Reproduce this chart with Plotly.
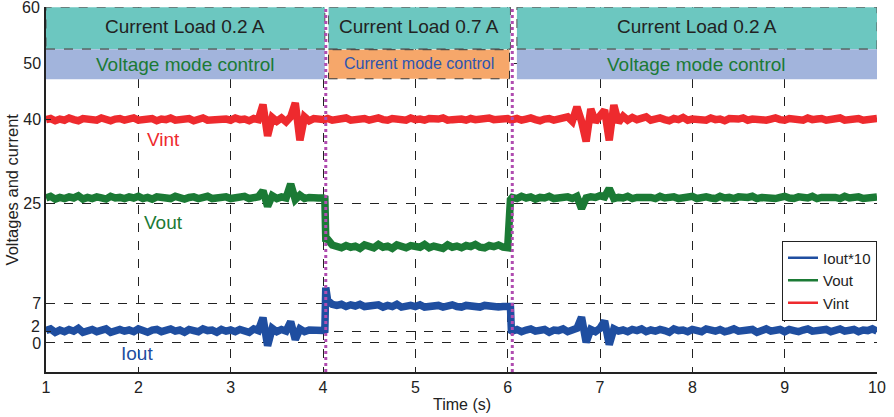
import plotly.graph_objects as go

# ---------------- data ----------------
# sample times: 0.05 s grid, with the two switching instants inserted
t_seg1 = [round(1.00 + 0.05 * i, 2) for i in range(61)]      # 1.00 .. 4.00
t_step1 = [4.02, 4.03]
t_seg2 = [round(4.05 + 0.05 * i, 2) for i in range(40)]      # 4.05 .. 6.00
t_step2 = [6.03, 6.04]
t_seg3 = [round(6.05 + 0.05 * i, 2) for i in range(80)]      # 6.05 .. 10.00
time_s = t_seg1 + t_step1 + t_seg2 + t_step2 + t_seg3

vint_seg1 = [39.9, 40.1, 39.7, 40.0, 39.8, 40.2, 39.9, 39.7, 40.1, 39.9,
             40.0, 39.8, 40.2, 39.9, 39.7, 40.0, 40.1, 39.8, 39.9, 40.2,
             39.8, 40.0, 39.9, 40.1, 39.7, 40.0, 39.9, 40.2, 39.8, 40.0,
             39.9, 40.1, 39.7, 40.0, 40.2, 39.8, 39.9, 40.1, 39.9, 40.0,
             39.8, 40.2, 39.9, 40.0, 39.7, 40.1, 39.9, 42.6, 37.0, 40.3,
             39.6, 40.2, 39.5, 40.4, 42.9, 36.2, 40.4, 39.7, 40.1, 39.9,
             40.0]
vint_step1 = [39.9, 40.0]
vint_seg2 = [40.1, 39.8, 40.0, 39.9, 40.2, 39.8, 40.0, 39.9, 40.1, 39.8,
             40.0, 40.2, 39.9, 39.8, 40.1, 39.9, 40.0, 39.8, 40.2, 39.9,
             40.0, 39.8, 40.1, 39.9, 40.0, 40.2, 39.8, 39.9, 40.1, 40.0,
             39.8, 40.1, 39.9, 40.0, 39.8, 40.2, 39.9, 40.0, 39.8, 40.1]
vint_step2 = [39.9, 40.0]
vint_seg3 = [39.9, 40.1, 39.8, 40.0, 40.2, 39.9, 39.7, 40.0, 40.1, 39.8,
             40.0, 39.9, 40.4, 39.6, 42.2, 39.6, 36.0, 41.8, 39.5, 40.6,
             41.6, 36.2, 42.5, 39.4, 40.5, 39.8, 40.3, 39.9, 40.0, 40.4,
             39.8, 40.0, 40.2, 39.9, 39.7, 40.1, 39.9, 40.3, 39.8, 40.0,
             39.9, 40.1, 39.8, 40.2, 39.9, 40.0, 39.7, 40.1, 39.9, 40.0,
             40.2, 39.8, 40.0, 39.9, 40.1, 39.8, 40.0, 40.2, 39.9, 39.8,
             40.1, 39.9, 40.0, 39.8, 40.2, 39.9, 40.0, 40.1, 39.8, 40.0,
             39.9, 40.2, 39.8, 40.0, 39.9, 40.1, 39.8, 40.0, 39.9, 40.1]
vint = vint_seg1 + vint_step1 + vint_seg2 + vint_step2 + vint_seg3

vout_seg1 = [25.9, 26.2, 25.7, 26.0, 25.8, 26.1, 25.9, 26.3, 25.7, 26.0,
             25.8, 26.1, 25.9, 25.7, 26.2, 25.9, 26.0, 25.8, 26.1, 25.9,
             26.2, 25.8, 26.0, 25.7, 26.1, 25.9, 26.0, 25.8, 26.2, 25.9,
             25.7, 26.0, 26.1, 25.8, 25.9, 26.2, 25.8, 26.0, 25.9, 26.1,
             25.8, 26.0, 25.9, 26.2, 25.8, 26.0, 26.1, 27.2, 24.4, 26.3,
             25.8, 26.1, 25.9, 28.4, 25.6, 26.4, 25.8, 26.0, 26.1, 25.9,
             25.9]
vout_step1 = [25.8, 18.6]
vout_seg2 = [18.5, 17.5, 17.2, 17.0, 17.4, 17.1, 17.3, 16.9, 17.5, 17.2,
             17.0, 17.6, 17.1, 17.3, 16.9, 17.5, 17.2, 17.0, 17.4, 17.2,
             17.1, 17.6, 17.0, 17.3, 17.2, 16.9, 17.5, 17.1, 17.3, 17.0,
             17.4, 17.2, 17.6, 17.1, 17.0, 17.4, 17.2, 17.5, 17.1, 17.0]
vout_step2 = [25.6, 26.0]
vout_seg3 = [26.0, 25.8, 26.2, 25.9, 26.1, 25.7, 26.0, 25.9, 26.2, 25.8,
             26.0, 25.9, 26.1, 25.8, 26.2, 24.0, 25.9, 26.1, 26.0, 26.3,
             26.1, 27.6, 25.8, 26.0, 25.9, 26.2, 25.8, 26.0, 26.1, 25.9,
             26.0, 25.8, 26.2, 25.9, 26.0, 26.1, 25.8, 26.0, 25.9, 26.2,
             25.8, 26.0, 26.1, 25.9, 25.8, 26.2, 25.9, 26.0, 25.8, 26.1,
             25.9, 26.0, 26.2, 25.8, 26.0, 25.9, 26.1, 25.8, 26.0, 26.2,
             25.9, 25.8, 26.1, 26.0, 25.9, 26.2, 25.8, 26.0, 26.1, 25.9,
             26.0, 25.8, 26.2, 25.9, 26.0, 26.1, 25.8, 26.0, 25.9, 26.1]
vout = vout_seg1 + vout_step1 + vout_seg2 + vout_step2 + vout_seg3

iout_seg1 = [2.2, 2.5, 1.9, 2.3, 2.0, 2.4, 2.1, 2.6, 1.9, 2.2,
             2.4, 2.0, 2.3, 2.5, 1.9, 2.2, 2.4, 2.1, 2.3, 2.0,
             2.5, 2.2, 1.9, 2.3, 2.4, 2.0, 2.2, 2.5, 2.1, 2.3,
             1.9, 2.4, 2.2, 2.0, 2.5, 2.2, 2.3, 1.9, 2.4, 2.1,
             2.3, 2.0, 2.4, 2.2, 1.9, 2.5, 2.2, 4.5, -0.5, 2.6,
             2.0, 2.4, 2.1, 3.8, 0.6, 2.5, 2.0, 2.3, 2.2, 2.4,
             2.2]
iout_step1 = [2.3, 9.9]
iout_seg2 = [7.6, 6.9, 6.7, 6.9, 6.5, 6.8, 6.6, 6.9, 6.5, 6.7,
             6.6, 6.8, 6.4, 6.7, 6.5, 6.9, 6.4, 6.6, 6.7, 6.5,
             6.8, 6.4, 6.6, 6.5, 6.7, 6.4, 6.6, 6.8, 6.5, 6.4,
             6.7, 6.5, 6.6, 6.4, 6.7, 6.5, 6.6, 6.4, 6.5, 6.6]
iout_step2 = [6.5, 2.2]
iout_seg3 = [2.1, 2.4, 2.0, 2.3, 2.5, 2.1, 2.2, 2.4, 1.9, 2.3,
             2.2, 2.5, 2.0, 2.3, 2.6, 4.6, 0.1, 2.4, 2.0, 2.6,
             3.9, -0.3, 2.5, 2.1, 2.3, 2.0, 2.4, 2.2, 2.5, 2.0,
             2.3, 2.1, 2.4, 2.2, 1.9, 2.5, 2.2, 2.3, 2.0, 2.4,
             2.2, 2.0, 2.5, 2.3, 2.1, 2.4, 2.0, 2.2, 2.5, 2.1,
             2.3, 2.2, 2.4, 1.9, 2.3, 2.5, 2.1, 2.2, 2.4, 2.0,
             2.4, 2.2, 2.0, 2.3, 2.5, 2.1, 2.3, 2.2, 2.4, 2.0,
             2.3, 2.5, 2.1, 2.2, 2.4, 2.0, 2.3, 2.2, 2.5, 2.1]
iout = iout_seg1 + iout_step1 + iout_seg2 + iout_step2 + iout_seg3

series_names = ["Iout*10", "Vout", "Vint"]
series_colors = ["#1f4ea0", "#1b7a35", "#ee2a2e"]

y_ticks = [0, 2, 7, 25, 40, 50, 60]
# "2" is drawn slightly raised and "60" sits at the top edge: both placed as annotations
y_ticklabels = ["0", "", "7", "25", "40", "50", ""]
x_ticks = [1, 2, 3, 4, 5, 6, 7, 8, 9, 10]

# load/mode bands: (x0, x1, label)
load_bands = [(1.0, 4.02, "Current Load 0.2 A"),
              (4.06, 6.03, "Current Load 0.7 A"),
              (6.10, 10.0, "Current Load 0.2 A")]
mode_bands = [(1.0, 4.02, "Voltage mode control"),
              (4.06, 6.02, "Current mode control"),
              (6.10, 10.0, "Voltage mode control")]
switch_times = [4.03, 6.05]

FONT = "Liberation Sans, Arial, sans-serif"

fig = go.Figure()

# thick signal traces (no legend)
for yv, col in [(vint, series_colors[2]), (vout, series_colors[1]), (iout, series_colors[0])]:
    fig.add_trace(go.Scatter(x=time_s, y=yv, mode="lines",
                             line=dict(color=col, width=7.5),
                             showlegend=False, hoverinfo="skip"))

# legend entries (thin lines)
for name, col in zip(series_names, series_colors):
    fig.add_trace(go.Scatter(x=[None], y=[None], mode="lines", name=name,
                             line=dict(color=col, width=2.5)))

shapes = []
annotations = []
# top "current load" bands
for x0, x1, lab in load_bands:
    shapes.append(dict(type="rect", xref="x", yref="y", x0=x0, x1=x1, y0=52.5, y1=60,
                       fillcolor="#6cc7c0", line=dict(color="#555555", width=1, dash="dash"),
                       layer="above"))
    annotations.append(dict(x=(x0 + x1) / 2, y=56.5, xref="x", yref="y", text=lab,
                            showarrow=False, font=dict(size=19, color="#222222", family=FONT)))
# control mode bands
for x0, x1, lab in mode_bands:
    if lab.startswith("Current"):
        shapes.append(dict(type="rect", xref="x", yref="y", x0=x0, x1=x1, y0=47.2, y1=52.4,
                           fillcolor="#f6a76a", line=dict(color="#333333", width=1, dash="dash"),
                           layer="above"))
        annotations.append(dict(x=(x0 + x1) / 2, y=49.9, xref="x", yref="y", text=lab,
                                showarrow=False, font=dict(size=16, color="#2d55b0", family=FONT)))
    else:
        shapes.append(dict(type="rect", xref="x", yref="y", x0=x0, x1=x1, y0=47.1, y1=52.5,
                           fillcolor="#a2b4dc", line=dict(width=0), layer="above"))
        annotations.append(dict(x=(x0 + x1) / 2, y=49.8, xref="x", yref="y", text=lab,
                                showarrow=False, font=dict(size=19, color="#1b7a35", family=FONT)))
# dashed separator between the bands
for x0, x1, lab in load_bands:
    shapes.append(dict(type="line", xref="x", yref="y", x0=x0, x1=x1, y0=52.5, y1=52.5,
                       line=dict(color="#555555", width=1, dash="dash"), layer="above"))
# switching instants
for xs in switch_times:
    shapes.append(dict(type="line", xref="x", yref="paper", x0=xs, x1=xs, y0=0, y1=1,
                       line=dict(color="#b04cb0", width=3, dash="dot"), layer="above"))

# signal labels, special tick labels and axis titles
annotations += [
    dict(x=2.27, y=36.3, xref="x", yref="y", text="Vint", showarrow=False,
         font=dict(size=19, color=series_colors[2], family=FONT)),
    dict(x=2.27, y=21.5, xref="x", yref="y", text="Vout", showarrow=False,
         font=dict(size=19, color=series_colors[1], family=FONT)),
    dict(x=1.99, y=-1.9, xref="x", yref="y", text="Iout", showarrow=False,
         font=dict(size=19, color=series_colors[0], family=FONT)),
    dict(x=-0.005, y=2.9, xref="paper", yref="y", text="2", showarrow=False,
         xanchor="right", yanchor="middle", font=dict(size=16, color="#222222", family=FONT)),
    dict(x=-0.005, y=59.9, xref="paper", yref="y", text="60", showarrow=False,
         xanchor="right", yanchor="middle", font=dict(size=16, color="#222222", family=FONT)),
    dict(x=0.5, y=-0.088, xref="paper", yref="paper", text="Time (s)", showarrow=False,
         xanchor="center", yanchor="middle", font=dict(size=16, color="#222222", family=FONT)),
    dict(x=-0.041, y=0.5, xref="paper", yref="paper", text="Voltages and current",
         showarrow=False, textangle=-90, xanchor="center", yanchor="middle",
         font=dict(size=16.5, color="#222222", family=FONT)),
]

fig.update_layout(
    width=894, height=417,
    margin=dict(l=46, r=17, t=7, b=45, autoexpand=False),
    paper_bgcolor="white", plot_bgcolor="white",
    font=dict(family=FONT, size=16, color="#222222"),
    shapes=shapes, annotations=annotations,
    legend=dict(x=1.0, y=0.36, xanchor="right", yanchor="top",
                bgcolor="white", bordercolor="#222222", borderwidth=1,
                font=dict(size=15, family=FONT, color="#222222"),
                tracegroupgap=0, itemwidth=30),
)
fig.update_xaxes(range=[1, 10], tickvals=x_ticks, ticktext=[str(v) for v in x_ticks],
                 showgrid=True, gridcolor="#222222", griddash="dash", gridwidth=1,
                 showline=True, linecolor="#222222", linewidth=1.5,
                 ticks="inside", ticklen=5, tickcolor="#222222", zeroline=False,
                 tickfont=dict(size=16), automargin=False)
fig.update_yaxes(range=[-5.2, 60.03], tickvals=y_ticks, ticktext=y_ticklabels,
                 showgrid=True, gridcolor="#222222", griddash="dash", gridwidth=1,
                 showline=True, linecolor="#222222", linewidth=1.5,
                 ticks="inside", ticklen=5, tickcolor="#222222", zeroline=False,
                 tickfont=dict(size=16), automargin=False)

fig.write_html("out.html", config={"displayModeBar": False},
               post_script="document.body.style.margin='0';document.body.style.padding='0';")
